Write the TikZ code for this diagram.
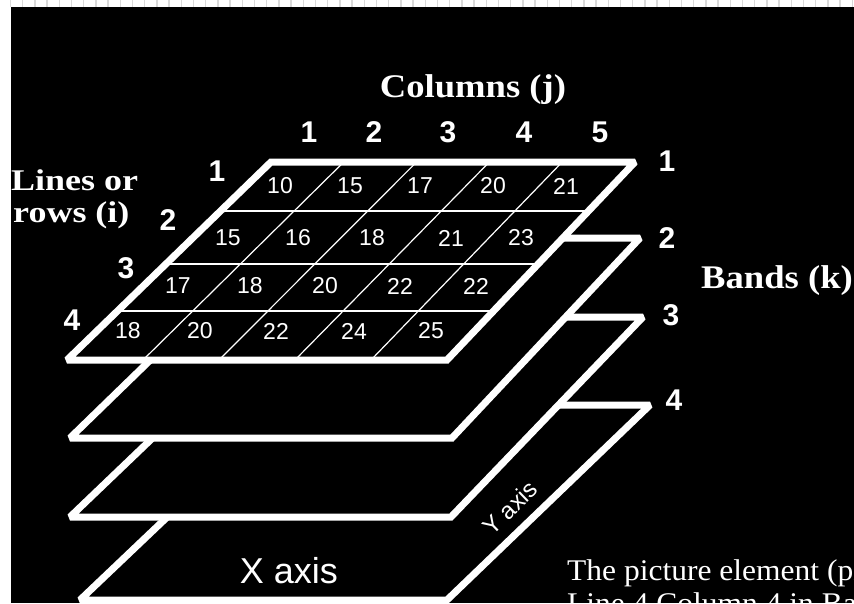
\documentclass[tikz,border=0pt]{standalone}
\usepackage{fontspec}
\setmainfont{Liberation Serif}
\newfontfamily\sansf{Liberation Sans}
\usetikzlibrary{calc}
\begin{document}
\begin{tikzpicture}[x=1pt,y=-1pt,
 layer/.style={draw=white, fill=black, line width=7pt, line join=miter, miter limit=2},
 outline/.style={draw=white, line width=7pt, line join=miter, miter limit=2},
 rowline/.style={draw=white, line width=2.5pt},
 colline/.style={draw=white, line width=1.2pt},
 cellnum/.style={text=white, font=\sansf\fontsize{23}{25}\selectfont, inner sep=0pt},
 idx/.style={text=white, font=\sansf\bfseries\fontsize{30}{32}\selectfont, inner sep=0pt},
 title/.style={text=white, font=\bfseries\fontsize{33}{36}\selectfont, inner sep=0pt},
 rowtitle/.style={text=white, font=\bfseries\fontsize{30}{32}\selectfont, inner sep=0pt, anchor=base west},
 note/.style={text=white, font=\fontsize{30}{32}\selectfont, inner sep=0pt, anchor=base west},
 axislabel/.style={text=white, font=\sansf\fontsize{36}{38}\selectfont, inner sep=0pt}]
\useasboundingbox (0,0) rectangle (854,603);
\begin{scope}
\clip (0,0) rectangle (854,603);
\fill[white] (0,0) rectangle (854,603);
\foreach \i in {0,...,69} \draw[gray!30, line width=1.5pt] ({10.5+12.2*\i},0) -- ({10.5+12.2*\i},7);
\fill[black] (11,7) rectangle (854,603);

% layer 4
\coordinate (dA) at (285,405); \coordinate (dB) at (650,405);
\coordinate (dC) at (447,600); \coordinate (dD) at (80,600);
\draw[layer] (dA) -- (dB) -- (dC) -- (dD) -- cycle;
\node[axislabel] (xaxis) at (289,571) {X axis};
\node[axislabel, rotate=44, font=\sansf\fontsize{24}{26}\selectfont] (yaxis) at (510,508) {Y axis};

% layer 3
\coordinate (cA) at (279,317); \coordinate (cB) at (643,317);
\coordinate (cC) at (451,517); \coordinate (cD) at (70,517);
\draw[layer] (cA) -- (cB) -- (cC) -- (cD) -- cycle;

% layer 2
\coordinate (bA) at (276,238); \coordinate (bB) at (640,238);
\coordinate (bC) at (452,438); \coordinate (bD) at (70,438);
\draw[layer] (bA) -- (bB) -- (bC) -- (bD) -- cycle;

% layer 1
\coordinate (aA) at (271,162); \coordinate (aB) at (635,162);
\coordinate (aC) at (447,360); \coordinate (aD) at (67,360);
\fill[black] (aA) -- (aB) -- (aC) -- (aD) -- cycle;
\foreach \t in {0.247,0.515,0.753}
  \draw[rowline] ($(aA)!\t!(aD)$) -- ($(aB)!\t!(aC)$);
\foreach \k [evaluate=\k as \f using \k/5] in {1,...,4}
  \draw[colline] ($(aA)!\f!(aB)$) -- ($(aD)!\f!(aC)$);
\draw[outline] (aA) -- (aB) -- (aC) -- (aD) -- cycle;

\foreach \x/\y/\n [count=\c] in {
  280/186/10, 350/186/15, 420/186/17, 493/186/20, 566/186/21,
  228/238/15, 298/238/16, 372/238/18, 451/238/21, 521/238/23,
  178/286/17, 250/286/18, 325/286/20, 400/286/22, 476/286/22,
  128/331/18, 200/331/20, 276/331/22, 354/331/24, 431/331/25}
  \node[cellnum] (v\c) at (\x,\y) {\n};

% column indices
\foreach \x/\n in {309/1, 374/2, 448/3, 524/4, 600/5}
  \node[idx] (col\n) at (\x,132) {\n};
% row indices
\foreach \x/\y/\n in {217/171/1, 168/220/2, 126/268/3, 72/320/4}
  \node[idx] (row\n) at (\x,\y) {\n};
% band indices
\foreach \x/\y/\n in {667/161/1, 667/238/2, 671/315/3, 674/400/4}
  \node[idx] (band\n) at (\x,\y) {\n};

\node[title, anchor=base] (coltitle) at (473,97) {\scalebox{1.11}[1]{Columns (j)}};
\node[title, anchor=base] (bandtitle) at (777,288) {\scalebox{1.11}[1]{Bands (k)}};
\node[rowtitle] (rowtitleA) at (11,190) {\scalebox{1.2}[1]{Lines or}};
\node[rowtitle] (rowtitleB) at (13,222) {\scalebox{1.2}[1]{rows (i)}};

\node[note] (noteA) at (567,580) {\scalebox{1.05}[1]{The picture element (pixel)}};
\node[note] (noteB) at (567,613) {\scalebox{1.05}[1]{Line 4 Column 4 in Band}};
\end{scope}
\end{tikzpicture}
\end{document}
